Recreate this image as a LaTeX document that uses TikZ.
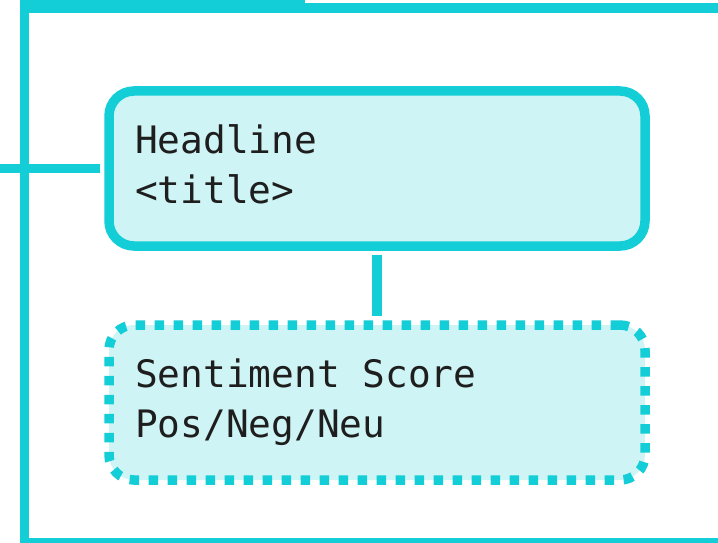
\documentclass[tikz,border=0pt]{standalone}
\usepackage{fontspec}
\newfontfamily\monofont{DejaVu Sans Mono}
\newcommand\cardfont{\monofont\fontsize{37.8}{50}\selectfont}
\newcommand\monospc{\hspace*{0.602em}}
\definecolor{cyanline}{RGB}{19,206,214}
\definecolor{cyanfill}{RGB}{207,244,245}
\definecolor{inktext}{RGB}{30,30,30}
\tikzset{
  card/.style={rectangle, rounded corners=25pt, fill=cyanfill, draw=cyanline,
    line width=9.5pt, minimum width=536pt, minimum height=155pt,
    text width=484pt, inner xsep=26pt, inner ysep=0pt, align=left,
    text=inktext, font=\cardfont},
  solidcard/.style={card},
  dottedcard/.style={card, dash pattern=on 9.5pt off 9.5pt},
  link/.style={draw=cyanline, line width=9.5pt, shorten <=4pt, shorten >=4pt},
}
\begin{document}
\begin{tikzpicture}[x=1pt,y=-1pt]
\useasboundingbox (0,0) rectangle (718,543);
% frame
\fill[cyanline] (20,0) rectangle (305,12.7);
\fill[cyanline] (305,2.7) rectangle (718,12.7);
\fill[cyanline] (20,0) rectangle (29.3,543);
\fill[cyanline] (20,537.7) rectangle (718,543);
% nodes
\node[solidcard] (headline) at (377,168.5) {\strut Headline\\<title>\strut};
\node[dottedcard] (sentiment) at (377,402.5) {\strut Sentiment\monospc{}Score\\Pos/Neg/Neu\strut};
% connectors
\coordinate (stubend) at (0,168.5);
\draw[link, shorten <=0pt] (stubend) -- (headline.west);
\draw[link] (headline.south) -- (sentiment.north);
\end{tikzpicture}
\end{document}
